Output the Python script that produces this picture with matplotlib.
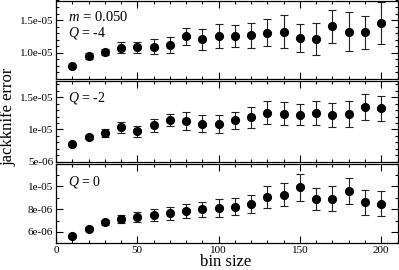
import matplotlib
matplotlib.use("Agg")
import matplotlib.pyplot as plt
from matplotlib.ticker import FixedLocator, MultipleLocator, NullFormatter

plt.rcParams['font.family'] = ['Liberation Serif', 'DejaVu Serif']
plt.rcParams['mathtext.fontset'] = 'custom'
plt.rcParams['mathtext.rm'] = 'Liberation Serif'
plt.rcParams['mathtext.it'] = 'Liberation Serif:italic'

bin_size = [10, 20, 30, 40, 50, 60, 70, 80, 90, 100, 110, 120, 130, 140, 150, 160, 170, 180, 190, 200]

err_q4 = [0.80e-5, 0.95e-5, 1.01e-5, 1.08e-5, 1.085e-5, 1.095e-5, 1.115e-5, 1.25e-5, 1.205e-5, 1.26e-5,
          1.255e-5, 1.265e-5, 1.31e-5, 1.325e-5, 1.23e-5, 1.215e-5, 1.405e-5, 1.325e-5, 1.315e-5, 1.46e-5]
sd_q4 = [0.01e-5, 0.04e-5, 0.05e-5, 0.085e-5, 0.08e-5, 0.115e-5, 0.125e-5, 0.13e-5, 0.155e-5, 0.18e-5,
         0.165e-5, 0.19e-5, 0.20e-5, 0.25e-5, 0.21e-5, 0.245e-5, 0.25e-5, 0.295e-5, 0.25e-5, 0.32e-5]

err_q2 = [0.78e-5, 0.88e-5, 0.943e-5, 1.035e-5, 0.97e-5, 1.066e-5, 1.143e-5, 1.13e-5, 1.09e-5, 1.09e-5,
          1.14e-5, 1.19e-5, 1.26e-5, 1.245e-5, 1.23e-5, 1.255e-5, 1.22e-5, 1.24e-5, 1.35e-5, 1.33e-5]
sd_q2 = [0.01e-5, 0.03e-5, 0.06e-5, 0.087e-5, 0.08e-5, 0.10e-5, 0.09e-5, 0.135e-5, 0.13e-5, 0.14e-5,
         0.13e-5, 0.165e-5, 0.175e-5, 0.18e-5, 0.165e-5, 0.19e-5, 0.19e-5, 0.205e-5, 0.205e-5, 0.195e-5]

err_q0 = [5.67e-6, 6.29e-6, 6.83e-6, 7.10e-6, 7.33e-6, 7.51e-6, 7.63e-6, 7.83e-6, 8.00e-6, 8.10e-6,
          8.22e-6, 8.45e-6, 9.08e-6, 9.26e-6, 9.91e-6, 8.90e-6, 8.90e-6, 9.58e-6, 8.60e-6, 8.49e-6]
sd_q0 = [0.05e-6, 0.12e-6, 0.24e-6, 0.36e-6, 0.43e-6, 0.52e-6, 0.58e-6, 0.65e-6, 0.65e-6, 0.75e-6,
         0.78e-6, 0.81e-6, 0.95e-6, 1.02e-6, 1.16e-6, 0.96e-6, 1.10e-6, 1.11e-6, 1.11e-6, 1.08e-6]

mass_label = "$m$ = 0.050"
q_labels = ["$Q$ = -4", "$Q$ = -2", "$Q$ = 0"]
ytick_vals = [[1.0e-5, 1.5e-5], [5e-6, 1e-5, 1.5e-5], [6e-6, 8e-6, 1e-5]]
ytick_labels = [["1.0e-05", "1.5e-05"], ["5e-06", "1e-05", "1.5e-05"], ["6e-06", "8e-06", "1e-05"]]
ylims = [(0.6e-5, 1.8e-5), (0.5e-5, 1.75e-5), (5e-6, 1.2e-5)]
yminor = [0.1e-5, 0.1e-5, 1e-6]
xticks = [0, 50, 100, 150, 200]

fig = plt.figure(figsize=(3.99, 2.70), dpi=100)
W, H = 399.0, 270.0
left, right = 56 / W, 397.5 / W
panels_px = [(0.5, 79.0), (81.0, 161.7), (163.5, 243.3)]
q_ypos = [0.585, 0.79, 0.77]
series = [(err_q4, sd_q4), (err_q2, sd_q2), (err_q0, sd_q0)]

for i, ((t, b), (y, e)) in enumerate(zip(panels_px, series)):
    ax = fig.add_axes([left, 1 - b / H, right - left, (b - t) / H])
    ax.errorbar(bin_size, y, yerr=e, fmt='o', color='black', ms=5.6, ecolor='#222222',
                elinewidth=0.8, capsize=2.8, capthick=0.8)
    ax.set_xlim(0, 210)
    ax.set_ylim(*ylims[i])
    ax.xaxis.set_major_locator(FixedLocator(xticks))
    ax.xaxis.set_minor_locator(MultipleLocator(10))
    ax.yaxis.set_major_locator(FixedLocator(ytick_vals[i]))
    ax.set_yticklabels(ytick_labels[i])
    ax.yaxis.set_minor_locator(MultipleLocator(yminor[i]))
    ax.tick_params(which='both', direction='in', top=True, right=True, labelsize=8, pad=2, width=0.8)
    ax.tick_params(which='major', length=5)
    ax.tick_params(which='minor', length=2.5)
    for s in ax.spines.values():
        s.set_linewidth(0.9)
    if i < 2:
        ax.xaxis.set_major_formatter(NullFormatter())
    else:
        ax.set_xticklabels([str(v) for v in xticks])
    if i == 0:
        ax.text(0.035, 0.79, mass_label, transform=ax.transAxes, fontsize=10.5,
                va='center', ha='left')
    ax.text(0.035, q_ypos[i], q_labels[i], transform=ax.transAxes, fontsize=10,
            va='center', ha='left')

fig.text(0.022, 0.567, "jackknife error", rotation=90, fontsize=12, ha='center', va='center')
fig.text(0.566, 0.028, "bin size", fontsize=12, ha='center', va='center')

fig.savefig("out.png", dpi=100)
